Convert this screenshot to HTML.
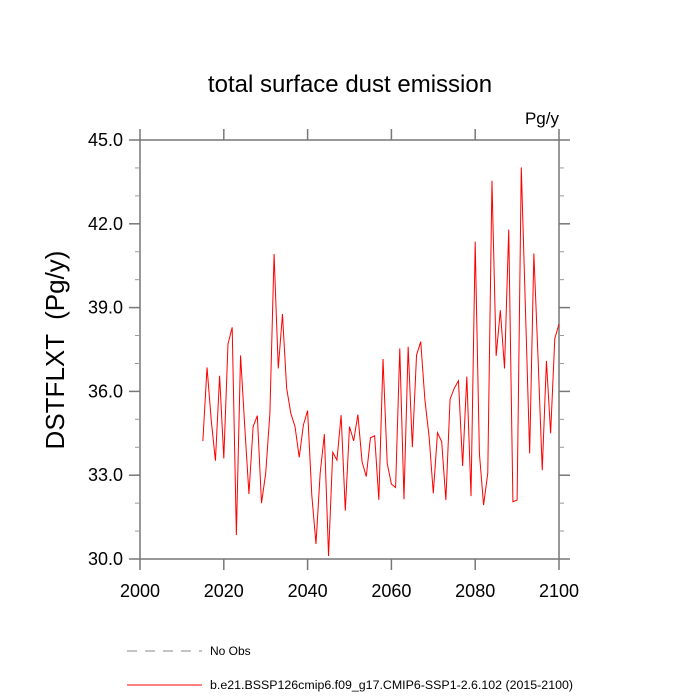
<!DOCTYPE html>
<html><head><meta charset="utf-8"><style>
body{margin:0;background:#fff}
svg{display:block;font-family:"Liberation Sans",sans-serif}
</style></head><body>
<svg id="chart" width="700" height="700" viewBox="0 0 700 700">
<text x="350" y="92" text-anchor="middle" font-size="24">total surface dust emission</text>
<text x="559" y="124" text-anchor="end" font-size="17">Pg/y</text>
<text transform="translate(64,350) rotate(-90)" text-anchor="middle" font-size="26" xml:space="preserve">DSTFLXT  (Pg/y)</text>
<g id="axes"></g>
<polyline id="series" fill="none" stroke="#ff0000" stroke-width="1" stroke-linejoin="miter"/>
<line x1="127" y1="651" x2="202" y2="651" stroke="#888" stroke-width="1" stroke-dasharray="10,8"/>
<text x="210" y="655" font-size="12">No Obs</text>
<line x1="127" y1="685" x2="202" y2="685" stroke="#ff0000" stroke-width="1"/>
<text x="210" y="689" font-size="12.4">b.e21.BSSP126cmip6.f09_g17.CMIP6-SSP1-2.6.102 (2015-2100)</text>
</svg>
<script>
const startYear = 2015;
const values = [34.22,36.86,34.97,33.52,36.56,33.60,37.70,38.29,30.86,37.29,34.74,32.33,34.74,35.13,32.0,33.07,35.21,40.92,36.82,38.77,36.11,35.21,34.74,33.64,34.80,35.31,32.29,30.54,33.07,34.47,30.11,33.82,33.54,35.15,31.73,34.74,34.23,35.17,33.48,32.95,34.34,34.41,32.12,37.16,33.42,32.68,32.56,37.54,32.14,37.60,34.0,37.30,37.78,35.69,34.38,32.35,34.52,34.20,32.11,35.72,36.11,36.38,33.33,36.53,32.25,41.36,33.78,31.93,33.07,43.54,37.27,38.91,36.82,41.79,32.05,32.11,44.02,38.9,33.78,40.94,37.2,33.18,37.09,34.50,37.90,38.41];
const xTicks = [2000,2020,2040,2060,2080,2100];
const yTicks = [30,33,36,39,42,45];
const yMinor = [31,32,34,35,37,38,40,41,43,44];
const L=140,R=559,T=140,B=559;
const xs = v => L + (v-2000)/100*(R-L);
const ys = v => B - (v-30)/15*(B-T);
const NS="http://www.w3.org/2000/svg";
const ax=document.getElementById('axes');
function mk(tag,attrs){const e=document.createElementNS(NS,tag);for(const k in attrs)e.setAttribute(k,attrs[k]);ax.appendChild(e);return e;}
const frame=mk('rect',{x:L,y:T,width:R-L,height:B-T,fill:'none',stroke:'#777','stroke-width':1.5});


xTicks.forEach(t=>{
  const x=xs(t);
  const a=mk('line',{x1:x,y1:B,x2:x,y2:B+11,stroke:'#777','stroke-width':1.5});
  
  
  const b=mk('line',{x1:x,y1:T,x2:x,y2:T-11,stroke:'#777','stroke-width':1.5});
  
  
  const tx=mk('text',{x:x,y:B+38,'text-anchor':'middle','font-size':18});
  tx.textContent=t;
  
  
});
yTicks.forEach(t=>{
  const y=ys(t);
  const a=mk('line',{x1:L,y1:y,x2:L-11,y2:y,stroke:'#777','stroke-width':1.5});
  
  
  const b=mk('line',{x1:R,y1:y,x2:R+11,y2:y,stroke:'#777','stroke-width':1.5});
  
  
  const tx=mk('text',{x:L-17,y:y+6,'text-anchor':'end','font-size':18});
  tx.textContent=t.toFixed(1);
  
  
});
yMinor.forEach(t=>{
  const y=ys(t);
  const a=mk('line',{x1:L,y1:y,x2:L-5,y2:y,stroke:'#999','stroke-width':1});
  
  
  const b=mk('line',{x1:R,y1:y,x2:R+5,y2:y,stroke:'#999','stroke-width':1});
  
  
});
document.getElementById('series').setAttribute('points',values.map((v,i)=>xs(startYear+i).toFixed(2)+','+ys(v).toFixed(2)).join(' '));
</script>
</body></html>
